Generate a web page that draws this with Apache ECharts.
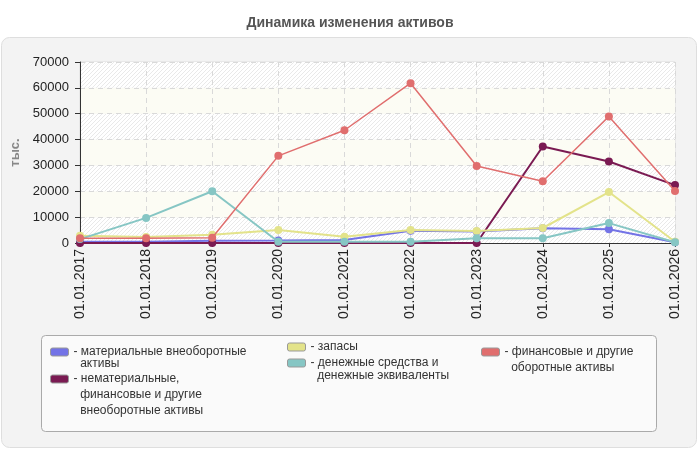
<!DOCTYPE html>
<html>
<head>
<meta charset="utf-8">
<script src="https://cdn.jsdelivr.net/npm/echarts@6/dist/echarts.min.js"></script>
<style>
html,body{margin:0;padding:0;background:#fff;}
#chart{width:700px;height:450px;}
</style>
</head>
<body>
<div id="chart"></div>
<script>
var categories = ['01.01.2017','01.01.2018','01.01.2019','01.01.2020','01.01.2021','01.01.2022','01.01.2023','01.01.2024','01.01.2025','01.01.2026'];
var seriesNames = [
  'материальные внеоборотные активы',
  'нематериальные, финансовые и другие внеоборотные активы',
  'запасы',
  'денежные средства и денежные эквиваленты',
  'финансовые и другие оборотные активы'
];
var tangibleAssets = [500, 500, 900, 1000, 1200, 4700, 4400, 5700, 5300, 300];
var intangibleAssets = [0, 0, 0, 0, 0, 0, 0, 37300, 31500, 22400];
var inventories = [2800, 2300, 3200, 5000, 2400, 5000, 4600, 5800, 19700, 500];
var cash = [1500, 9700, 20000, 500, 500, 500, 1800, 1800, 7700, 300];
var financialCurrent = [1800, 1800, 2000, 33700, 43600, 61800, 29800, 23900, 48900, 20100];
var yTicks = {min: 0, max: 70000, interval: 10000};

var colors = ['#7373e6', '#7a1a52', '#e3e38a', '#86c6c4', '#e06e6e'];
var legendLines = [
  ['- материальные внеоборотные', 'активы'],
  ['- нематериальные,', 'финансовые и другие', 'внеоборотные активы'],
  ['- запасы'],
  ['- денежные средства и', 'денежные эквиваленты'],
  ['- финансовые и другие', 'оборотные активы']
];

// hatch pattern
var pc = document.createElement('canvas');
pc.width = 4; pc.height = 4;
var px = pc.getContext('2d');
px.fillStyle = '#ffffff'; px.fillRect(0,0,4,4);
px.fillStyle = '#e9e9e9';
for (var i = 0; i < 4; i++) { px.fillRect(i, 3 - i, 1, 1); }

var chart = echarts.init(document.getElementById('chart'), null, {renderer: 'canvas'});

var dataArr = [tangibleAssets, intangibleAssets, inventories, cash, financialCurrent];
var widths = [2, 2, 2, 2, 1.5];
var series = dataArr.map(function (d, k) {
  return {
    name: seriesNames[k],
    type: 'line',
    data: d,
    symbol: 'circle',
    symbolSize: 8,
    lineStyle: {width: widths[k], color: colors[k]},
    itemStyle: {color: colors[k]},
    z: 3 + k
  };
});

// icon centre y and line height per legend item
var legendPos = [
  {left: 50, cy: 352, lh: 12},
  {left: 50, cy: 379, lh: 16},
  {left: 287, cy: 347, lh: 13},
  {left: 287, cy: 363, lh: 13},
  {left: 481, cy: 352, lh: 16}
];
var legends = legendPos.map(function (p, k) {
  var lines = legendLines[k];
  var n = lines.length;
  var txt = '';
  for (var j = 0; j < n - 1; j++) txt += '\n';
  txt += lines.map(function (s, j) { return j === 0 ? s : '  ' + s; }).join('\n');
  var top = p.cy - (2 * n - 1) * p.lh / 2;
  return {
    left: p.left, top: top, padding: 0,
    orient: 'vertical',
    icon: 'roundRect',
    itemWidth: 18, itemHeight: 8,
    itemGap: 0,
    selectedMode: false,
    data: [{name: seriesNames[k], itemStyle: {color: colors[k], borderColor: '#999', borderWidth: 1}}],
    formatter: function () { return txt; },
    textStyle: {
      fontFamily: 'Liberation Sans, Arial, sans-serif', fontSize: 12, color: '#333',
      lineHeight: p.lh
    }
  };
});

chart.setOption({
  animation: false,
  textStyle: {fontFamily: 'Liberation Sans, Arial, sans-serif'},
  title: {
    text: 'Динамика изменения активов',
    left: 'center', top: 11,
    textStyle: {fontSize: 14, fontWeight: 'bold', color: '#555', fontFamily: 'Liberation Sans, Arial, sans-serif'}
  },
  graphic: [
    {type: 'rect', z: -10, shape: {x: 1.5, y: 37.5, width: 695, height: 410, r: 8},
     style: {fill: '#f3f3f3', stroke: '#dedede', lineWidth: 1}},
    {type: 'rect', z: -9, shape: {x: 41.5, y: 335.5, width: 615, height: 96, r: 4},
     style: {fill: '#fafafa', stroke: '#aaaaaa', lineWidth: 1}}
  ],
  legend: legends,
  grid: {left: 80, right: 25, top: 62, bottom: 207, show: true, borderColor: '#dddddd', borderWidth: 1, backgroundColor: 'transparent'},
  xAxis: {
    type: 'category',
    data: categories,
    boundaryGap: false,
    axisLine: {lineStyle: {color: '#333', width: 1}},
    axisTick: {show: true, length: 4, lineStyle: {color: '#333'}},
    axisLabel: {rotate: 90, fontSize: 14, color: '#222', margin: 6},
    splitLine: {show: true, lineStyle: {type: [5, 4], color: '#d9d9d9'}}
  },
  yAxis: {
    type: 'value',
    min: yTicks.min, max: yTicks.max, interval: yTicks.interval,
    name: 'тыс.',
    nameLocation: 'middle',
    nameGap: 37,
    nameTextStyle: {fontSize: 13, fontWeight: 'bold', color: '#888'},
    axisLine: {show: true, lineStyle: {color: '#333', width: 1}},
    axisTick: {show: true, length: 5, lineStyle: {color: '#333'}},
    axisLabel: {fontSize: 13, color: '#222', margin: 11, formatter: function (v) { return String(v); }},
    splitLine: {show: true, lineStyle: {type: [5, 4], color: '#d9d9d9'}},
    splitArea: {show: true, areaStyle: {color: [{image: pc, repeat: 'repeat'}, '#fcfcf4']}}
  },
  series: series
});
</script>
</body>
</html>
